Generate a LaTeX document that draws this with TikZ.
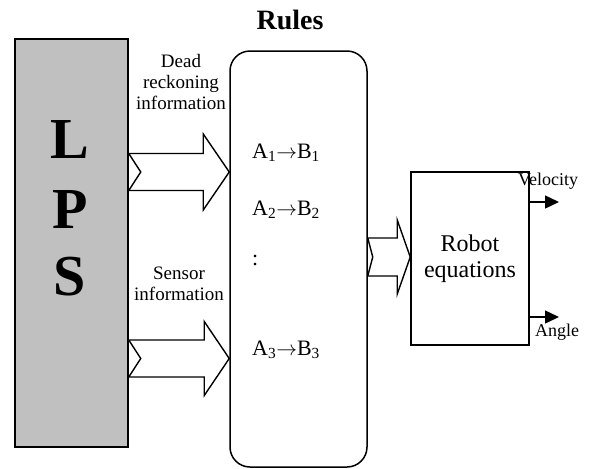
\documentclass[tikz,border=0pt]{standalone}
\usepackage{fontspec}
\setmainfont{Liberation Serif}
\usetikzlibrary{arrows.meta,calc}

% block arrow with a notched tail: #1 tail point, #2 tip point,
% #3 head length, #4 notch depth, #5 half shaft width, #6 half head width
\newcommand\fatarrow[6]{%
  \draw[fatbody] let \p1=(#1), \p2=(#2) in
    (\x1,\y1+#5) -- (\x2-#3,\y1+#5) -- (\x2-#3,\y1+#6) -- (\x2,\y1)
    -- (\x2-#3,\y1-#6) -- (\x2-#3,\y1-#5) -- (\x1,\y1-#5) -- (\x1+#4,\y1) -- cycle;}
% one rule of the form A_i -> B_i
\newcommand\ruleAB[1]{A\textsubscript{#1}$\rightarrow$B\textsubscript{#1}}

\begin{document}
\begin{tikzpicture}[x=1pt,y=-1pt,
  box/.style={draw,line width=1.5pt,inner sep=0pt},
  fatbody/.style={draw,fill=white,line width=1.4pt,line join=miter},
  lbl/.style={font=\fontsize{19}{21}\selectfont,align=center,inner sep=0pt},
  rule/.style={font=\fontsize{22}{24}\selectfont,anchor=west,inner sep=0pt},
  bigletter/.style={font=\fontsize{58}{60}\selectfont\bfseries,inner sep=0pt},
  outarrow/.style={line width=1.5pt,-{Triangle[length=14pt,width=13pt]}},
  outlbl/.style={font=\fontsize{18}{20}\selectfont,inner sep=0pt}]
\useasboundingbox (0,0) rectangle (590,469);

% main blocks
\node[box,fill={rgb,255:red,192;green,192;blue,192},minimum width=113pt,minimum height=408pt]
  (lps) at (71.5,243) {};
\node[box,rounded corners=20pt,minimum width=137pt,minimum height=416pt]
  (rules) at (298.5,259) {};
\node[box,minimum width=118pt,minimum height=173pt,
  font=\fontsize{24}{26}\selectfont,align=center] (robot) at (470,258.5) {Robot\\equations};

% letters of the LPS block
\node[bigletter] (pl) at (70,140) {L};
\node[bigletter] (pp) at (70,210) {P};
\node[bigletter] (ps) at (70,277) {S};

% titles and labels
\node[font=\fontsize{28}{30}\selectfont\bfseries,inner sep=0pt] (title) at (290,20) {Rules};
\node[lbl] (dead) at (181,82) {Dead\\reckoning\\information};
\node[lbl] (sens) at (179,284) {Sensor\\information};

% rule list
\node[rule] (r1) at (252,153) {\ruleAB{1}};
\node[rule] (r2) at (252,210) {\ruleAB{2}};
\node[rule] (r3) at (252,260) {:};
\node[rule] (r4) at (252,350) {\ruleAB{3}};

% block arrows between the blocks
\coordinate (a1t) at (lps.east |- 0,172);
\coordinate (a1h) at (rules.west |- 0,172);
\coordinate (a2t) at (lps.east |- 0,358.5);
\coordinate (a2h) at (rules.west |- 0,358.5);
\coordinate (a3t) at (rules.east |- 0,257);
\coordinate (a3h) at (robot.west |- 0,257);
\fatarrow{a1t}{a1h}{26pt}{12pt}{18.5pt}{38pt}
\fatarrow{a2t}{a2h}{25pt}{12pt}{18.5pt}{37pt}
\fatarrow{a3t}{a3h}{13pt}{5pt}{19pt}{37pt}

% outputs
\coordinate (vend) at (559,202);
\coordinate (aend) at (559,317);
\draw[outarrow] (robot.east |- vend) -- (vend);
\draw[outarrow] (robot.east |- aend) -- (aend);
\node[outlbl] (vel) at (548,181) {Velocity};
\node[outlbl] (ang) at (557,332) {Angle};
\end{tikzpicture}
\end{document}
